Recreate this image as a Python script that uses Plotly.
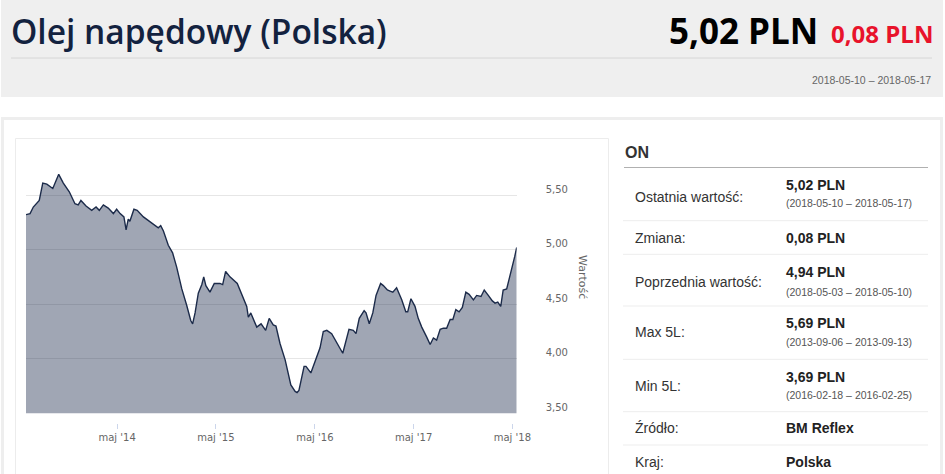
import plotly.graph_objects as go

# weekly diesel price (PLN)
dates = [
    "2013-05-29", "2013-06-13", "2013-06-25", "2013-07-17", "2013-07-30", "2013-08-14",
    "2013-09-05", "2013-09-27", "2013-10-14", "2013-11-05", "2013-11-26", "2013-12-08",
    "2013-12-18", "2014-01-06", "2014-01-27", "2014-02-12", "2014-02-24", "2014-03-11",
    "2014-03-29", "2014-04-17", "2014-04-29", "2014-05-12", "2014-05-26", "2014-06-03",
    "2014-06-11", "2014-06-17", "2014-07-02", "2014-07-14", "2014-08-06", "2014-08-30",
    "2014-09-30", "2014-10-09", "2014-10-19", "2014-11-06", "2014-11-22", "2014-12-07",
    "2014-12-26", "2015-01-13", "2015-01-28", "2015-02-04", "2015-02-13", "2015-02-25",
    "2015-03-10", "2015-03-17", "2015-03-25", "2015-04-09", "2015-04-25", "2015-05-16",
    "2015-05-26", "2015-06-06", "2015-06-22", "2015-07-19", "2015-08-08", "2015-08-23",
    "2015-08-29", "2015-09-07", "2015-09-29", "2015-10-15", "2015-11-01", "2015-11-14",
    "2015-11-29", "2015-12-09", "2015-12-24", "2016-01-12", "2016-02-02", "2016-02-18",
    "2016-02-25", "2016-03-03", "2016-03-22", "2016-03-29", "2016-04-16", "2016-05-08",
    "2016-05-20", "2016-06-01", "2016-06-14", "2016-07-02", "2016-07-27", "2016-08-12",
    "2016-09-04", "2016-09-20", "2016-09-30", "2016-10-12", "2016-10-30", "2016-11-06",
    "2016-11-18", "2016-12-01", "2016-12-13", "2016-12-30", "2017-01-09", "2017-01-24",
    "2017-02-03", "2017-02-13", "2017-02-27", "2017-03-18", "2017-04-02", "2017-04-09",
    "2017-04-21", "2017-05-06", "2017-05-18", "2017-05-31", "2017-06-18", "2017-07-01",
    "2017-07-13", "2017-07-25", "2017-08-07", "2017-08-19", "2017-08-31", "2017-09-13",
    "2017-09-23", "2017-10-04", "2017-10-16", "2017-10-28", "2017-11-10", "2017-11-22",
    "2017-12-08", "2017-12-20", "2018-01-05", "2018-01-17", "2018-02-01", "2018-02-16",
    "2018-02-26", "2018-03-08", "2018-03-19", "2018-03-28", "2018-04-10", "2018-04-22",
    "2018-05-03", "2018-05-10", "2018-05-17",
]
prices = [
    5.32, 5.33, 5.39, 5.45, 5.61, 5.60,
    5.56, 5.69, 5.61, 5.53, 5.42, 5.41,
    5.45, 5.40, 5.36, 5.39, 5.36, 5.41,
    5.38, 5.33, 5.37, 5.33, 5.30, 5.18,
    5.28, 5.26, 5.37, 5.36, 5.30, 5.26,
    5.20, 5.22, 5.17, 5.04, 4.97, 4.84,
    4.64, 4.49, 4.35, 4.32, 4.42, 4.60,
    4.68, 4.75, 4.67, 4.61, 4.69, 4.69,
    4.68, 4.80, 4.75, 4.69, 4.57, 4.48,
    4.38, 4.42, 4.29, 4.32, 4.26, 4.37,
    4.31, 4.30, 4.14, 3.99, 3.76, 3.70,
    3.69, 3.71, 3.93, 3.93, 3.87, 4.03,
    4.10, 4.25, 4.26, 4.23, 4.12, 4.05,
    4.27, 4.26, 4.23, 4.37, 4.44, 4.42,
    4.32, 4.42, 4.58, 4.69, 4.67, 4.63,
    4.62, 4.61, 4.65, 4.54, 4.43, 4.43,
    4.55, 4.48, 4.37, 4.29, 4.20, 4.13,
    4.19, 4.17, 4.27, 4.28, 4.28, 4.36,
    4.36, 4.45, 4.43, 4.47, 4.61, 4.59,
    4.54, 4.58, 4.57, 4.63, 4.58, 4.53,
    4.51, 4.52, 4.48, 4.63, 4.64, 4.75,
    4.86, 4.94, 5.02,
]

x_ticks = ["2014-05-01", "2015-05-01", "2016-05-01", "2017-05-01", "2018-05-01"]
x_labels = ["maj '14", "maj '15", "maj '16", "maj '17", "maj '18"]
y_ticks = [3.5, 4.0, 4.5, 5.0, 5.5]
y_labels = ["3,50", "4,00", "4,50", "5,00", "5,50"]

title = "Olej napędowy (Polska)"
last_value = "5,02 PLN"
change = "0,08 PLN"
period = "2018-05-10 – 2018-05-17"

row_labels = ["Ostatnia wartość:", "Zmiana:", "Poprzednia wartość:", "Max 5L:",
              "Min 5L:", "Źródło:", "Kraj:"]
row_values = ["5,02 PLN", "0,08 PLN", "4,94 PLN", "5,69 PLN", "3,69 PLN",
              "BM Reflex", "Polska"]
row_dates = ["(2018-05-10 – 2018-05-17)", "", "(2018-05-03 – 2018-05-10)",
             "(2013-09-06 – 2013-09-13)", "(2016-02-18 – 2016-02-25)", "", ""]

W, H = 945, 474


def fx(px):
    return px / W


def fy(py):
    return 1 - py / H


fig = go.Figure()
fig.add_trace(go.Scatter(
    x=dates, y=prices, mode="lines", fill="tozeroy",
    line=dict(color="#1c2b4a", width=1.4),
    fillcolor="rgba(28,44,76,0.42)",
    hoverinfo="skip", showlegend=False,
))
# carrier for the offset x axis with tick marks and labels
fig.add_trace(go.Scatter(
    x=dates[-1:], y=prices[-1:], xaxis="x2", mode="none",
    hoverinfo="skip", showlegend=False,
))

x_range = [dates[0], dates[-1]]


def hline(x0, x1, y, color, width=1):
    return dict(type="line", x0=fx(x0), x1=fx(x1), y0=fy(y), y1=fy(y),
                line=dict(color=color, width=width))


def vline(x, y0, y1, color, width=1):
    return dict(type="line", x0=fx(x), x1=fx(x), y0=fy(y0), y1=fy(y1),
                line=dict(color=color, width=width))


shapes = [
    dict(type="rect", x0=fx(1), x1=fx(943), y0=fy(0), y1=fy(97),
         fillcolor="#efefef", line=dict(width=0)),
    hline(11, 932, 58, "#d6d6d6"),
    # outer panel border (open at the bottom of the window)
    hline(1, 943, 118.5, "#eeeeee", 3),
    vline(2.5, 117, H, "#eeeeee", 3),
    vline(941.5, 117, H, "#eeeeee", 3),
    # chart box border
    hline(15.5, 608.5, 138.5, "#ececec"),
    vline(15.5, 138.5, H, "#ececec"),
    vline(608.5, 138.5, H, "#ececec"),
    hline(624, 928, 167.5, "#b0b0b0"),
]
for sy in [220.7, 254.3, 306, 359.3, 411.7, 445]:
    shapes.append(hline(623, 928, sy, "#ededed"))
for s in shapes:
    s.update(xref="paper", yref="paper", layer="below")

ann = []


def text(px, py, s, size, color, xanchor="left", family="Liberation Sans",
         bold=False, angle=0, weight=None):
    if bold:
        s = "<b>" + s + "</b>"
    font = dict(size=size, color=color, family=family)
    if weight:
        font["weight"] = weight
    ann.append(dict(x=fx(px), y=fy(py), xref="paper", yref="paper", text=s,
                    showarrow=False, xanchor=xanchor, yanchor="middle", textangle=angle,
                    font=font))


text(9, 31, title, 33.5, "#13223f", family="Open Sans", weight=600)
text(820, 31, last_value, 35, "#000000", xanchor="right", family="Open Sans", bold=True)
text(935, 33, change, 24, "#e8132b", xanchor="right", family="Open Sans", bold=True)
text(933, 80, period, 10.5, "#666666", xanchor="right")
text(623, 152, "ON", 16, "#333333", bold=True)
text(583, 277, "Wartość", 11, "#666666", xanchor="center", family="DejaVu Sans", angle=90)

label_y = [197.3, 238.3, 281.7, 332.3, 385.7, 428.3, 461.7]
value_y = [185, 238.3, 271.7, 323.3, 376.7, 428.3, 461.7]
date_y = [203.3, 0, 291.7, 341.7, 395, 0, 0]
for i in range(len(row_labels)):
    text(633, label_y[i], row_labels[i], 14, "#333333")
    text(784, value_y[i], row_values[i], 14, "#222222", bold=True)
    if row_dates[i]:
        text(784, date_y[i], row_dates[i], 10.5, "#555555")

tick_font = dict(family="DejaVu Sans", size=10, color="#666666")

fig.update_layout(
    width=W, height=H,
    margin=dict(l=0, r=0, t=0, b=0, pad=0),
    paper_bgcolor="white", plot_bgcolor="rgba(0,0,0,0)",
    shapes=shapes, annotations=ann,
    xaxis=dict(domain=[fx(26), fx(516.7)], range=x_range, type="date",
               showgrid=False, showticklabels=False, ticks="", zeroline=False,
               showline=False, fixedrange=True, automargin=False),
    xaxis2=dict(overlaying="x", anchor="free", position=fy(422.7), range=x_range,
                type="date", tickvals=x_ticks, ticktext=x_labels, ticks="outside",
                ticklen=5, tickwidth=1, tickcolor="#ccd6eb", showgrid=False,
                showline=False, zeroline=False, tickfont=tick_font, automargin=False),
    yaxis=dict(domain=[fy(413.3), fy(150)], range=[3.5, 5.9128], side="right",
               tickvals=y_ticks, ticktext=y_labels, ticks="", showgrid=True,
               gridcolor="#e6e6e6", gridwidth=1, zeroline=False, showline=False,
               tickfont=tick_font, ticklabelstandoff=28, ticklabelshift=-6,
               automargin=False),
)

# the page body has a default 8px margin; drop it so the figure fills the window
page_fix = "document.body.style.margin='0';document.body.style.overflow='hidden';"
fig.write_html("out.html", post_script=page_fix, config={"displayModeBar": False})
